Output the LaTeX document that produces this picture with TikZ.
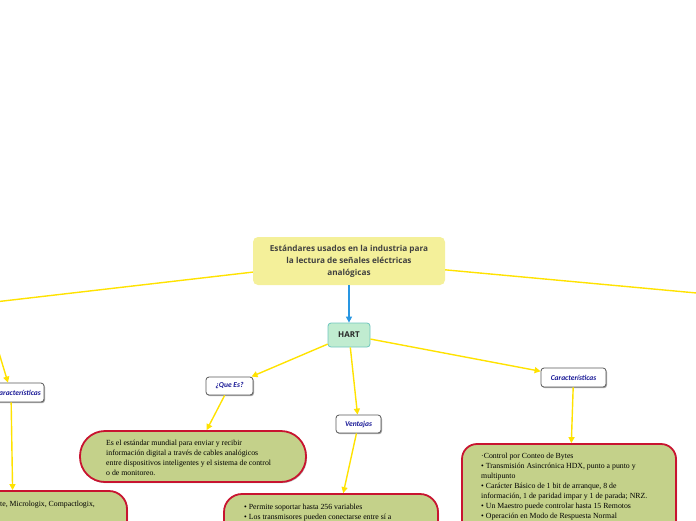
\documentclass[tikz,border=0pt]{standalone}
\usepackage{fontspec}
\setmainfont{Liberation Serif}
\newfontfamily\rootfont{Open Sans}
\newfontfamily\labfont{Carlito}
\usetikzlibrary{arrows.meta,shadows}
\definecolor{ylw}{RGB}{255,226,0}
\definecolor{rootfill}{RGB}{244,240,154}
\definecolor{hartfill}{RGB}{192,236,208}
\definecolor{hartline}{RGB}{110,198,190}
\definecolor{boxfill}{RGB}{196,209,138}
\definecolor{boxline}{RGB}{200,20,48}
\definecolor{labblue}{RGB}{24,24,150}
\definecolor{arrblue}{RGB}{40,150,226}
\tikzset{
  conn/.style={draw=ylw,line width=1.4pt,-{Triangle[length=6pt,width=6pt]}},
  connb/.style={draw=arrblue,line width=1.3pt,-{Triangle[length=6pt,width=6pt]}},
  lab/.style={rectangle,rounded corners=3pt,draw=black!65,line width=0.8pt,fill=white,inner sep=0pt,
    font=\labfont\bfseries\itshape\fontsize{7.5}{8}\selectfont,text=labblue,
    drop shadow={shadow xshift=1pt,shadow yshift=-1.2pt,fill=black,opacity=0.35}},
  tbox/.style={rectangle,draw=boxline,line width=1.8pt,fill=boxfill,inner sep=0pt,
    drop shadow={shadow xshift=1pt,shadow yshift=-1.2pt,fill=black,opacity=0.25}},
  ttext/.style={inner sep=0pt,align=left,anchor=north west,font=\fontsize{7.8}{10}\selectfont,text=black}
}
\begin{document}
\begin{tikzpicture}[x=1pt,y=-1pt]
\useasboundingbox (0,0) rectangle (696,520);
\clip (0,0) rectangle (696,520);
% nodes
\node[rectangle,rounded corners=5pt,fill=rootfill,minimum width=192pt,minimum height=48pt,inner sep=0pt,
  align=center,font=\rootfont\bfseries\fontsize{8.2}{12}\selectfont,text=black!75] (root) at (349,261)
  {Estándares usados en la industria para\\la lectura de señales eléctricas\\analógicas};
\node[rectangle,rounded corners=3pt,fill=hartfill,draw=hartline,line width=0.8pt,minimum width=42pt,minimum height=24pt,inner sep=0pt,
  font=\rootfont\bfseries\fontsize{8}{9}\selectfont,text=black!85] (hart) at (349,335) {HART};
\node[lab,minimum width=47pt,minimum height=18pt] (quees) at (229.5,386) {¿Que Es?};
\node[lab,minimum width=45pt,minimum height=18pt] (vent) at (358.5,424) {Ventajas};
\node[lab,minimum width=65pt,minimum height=19pt] (carR) at (573.5,377.5) {Características};
\node[lab,minimum width=66pt,minimum height=19pt] (carL) at (11,392.5) {\hspace*{14pt}Características};
\coordinate (outL) at (-40,306);
\coordinate (outR) at (740,297);
\coordinate (outLC) at (-14,310);
% text boxes
\node[tbox,rounded corners=25pt,minimum width=226pt,minimum height=51pt] (bQ) at (193,456.5) {};
\node[tbox,rounded corners=18pt,minimum width=214pt,minimum height=110pt] (bV) at (331,549) {};
\node[tbox,rounded corners=15pt,minimum width=214pt,minimum height=140pt] (bC) at (569,514) {};
\node[tbox,rounded corners=18pt,minimum width=227pt,minimum height=110pt] (bL) at (13.5,546) {};
\node[ttext] (tQ) at (106,439.5) {Es el estándar mundial para enviar y recibir\\información digital a través de cables analógicos\\entre dispositivos inteligentes y el sistema de control\\o de monitoreo.};
\node[ttext] (tV) at (244,503.5) {• Permite soportar hasta 256 variables\\• Los transmisores pueden conectarse entre sí a};
\node[ttext] (tC) at (481,452.5) {·Control por Conteo de Bytes\\• Transmisión Asincrónica HDX, punto a punto y\\multipunto\\• Carácter Básico de 1 bit de arranque, 8 de\\información, 1 de paridad impar y 1 de parada; NRZ.\\• Un Maestro puede controlar hasta 15 Remotos\\• Operación en Modo de Respuesta Normal};
\node[ttext] (tL) at (0,500.5) {te, Micrologix, Compactlogix,};
% connectors
\draw[connb] (root) -- (hart);
\draw[conn] (root) -- (outL);
\draw[conn] (root) -- (outR);
\draw[conn] (outLC) -- (carL);
\draw[conn] (hart) -- (quees);
\draw[conn] (hart) -- (vent);
\draw[conn] (hart) -- (carR);
\draw[conn] (quees) -- (bQ);
\draw[conn] (vent) -- (bV);
\draw[conn] (carR) -- (bC);
\draw[conn] (carL) -- (bL);
\end{tikzpicture}
\end{document}
